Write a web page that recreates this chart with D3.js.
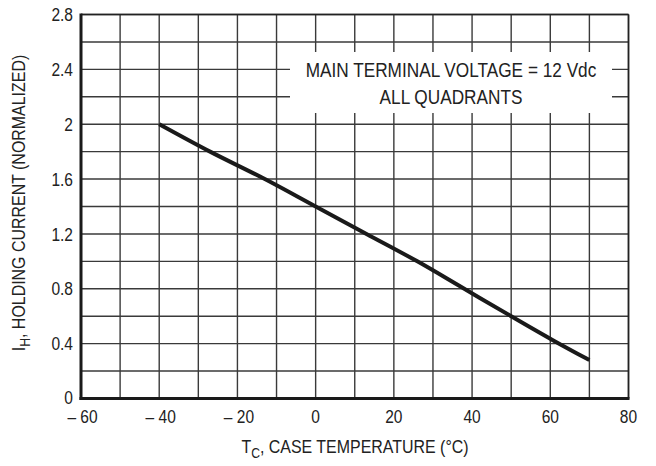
<!DOCTYPE html>
<html><head><meta charset="utf-8">
<script src="https://cdn.jsdelivr.net/npm/d3@7"></script>
<style>
body{margin:0;background:#fff;}
text{font-family:"Liberation Sans",Arial,sans-serif;fill:#222;}
</style></head>
<body><svg id="c" width="656" height="466"></svg>
<script>
const temps = [-40, -27, -13, 0, 13, 26, 38, 50, 61, 70];
const holding = [2.0, 1.8, 1.6, 1.4, 1.2, 1.0, 0.8, 0.6, 0.42, 0.28];
const xTicks = [-60, -40, -20, 0, 20, 40, 60, 80];
const yTicks = [0, 0.4, 0.8, 1.2, 1.6, 2, 2.4, 2.8];
const xGrid = d3.range(-60, 81, 10);
const yGrid = d3.range(0, 2.81, 0.2);
const noteLines = ["MAIN TERMINAL VOLTAGE = 12 Vdc", "ALL QUADRANTS"];

const svg = d3.select("#c");
const m = {l:81, r:628.5, t:14.5, b:398.5};
const x = d3.scaleLinear().domain([-60, 80]).range([m.l, m.r]);
const y = d3.scaleLinear().domain([0, 2.8]).range([m.b, m.t]);
const SX = 0.84; // condensed look

const g = svg.append("g");
g.selectAll(".vg").data(xGrid).join("line")
  .attr("x1", d=>x(d)).attr("x2", d=>x(d)).attr("y1", m.t).attr("y2", m.b)
  .attr("stroke", "#3a3a3a").attr("stroke-width", 1.4);
g.selectAll(".hg").data(yGrid).join("line")
  .attr("y1", d=>y(d)).attr("y2", d=>y(d)).attr("x1", m.l).attr("x2", m.r)
  .attr("stroke", "#3a3a3a").attr("stroke-width", 1.4);

g.append("rect").attr("x", 290).attr("y", 52).attr("width", 322).attr("height", 61).attr("fill", "#fff");
g.selectAll(".note").data(noteLines).join("text")
  .attr("transform", (d,i)=>`translate(451,${y(2.4) + i*(y(2.2)-y(2.4))}) scale(${SX},1)`)
  .attr("dy", "0.36em").attr("text-anchor", "middle").attr("font-size", 20.5)
  .text(d=>d);

g.append("line").attr("x1", m.l).attr("x2", m.r).attr("y1", m.t).attr("y2", m.t).attr("stroke","#222").attr("stroke-width",1.6);
g.append("line").attr("x1", m.r).attr("x2", m.r).attr("y1", m.t).attr("y2", m.b).attr("stroke","#222").attr("stroke-width",1.6);

const line = d3.line().x((d,i)=>x(temps[i])).y(d=>y(d)).curve(d3.curveMonotoneX);
g.append("path").datum(holding).attr("d", line).attr("fill","none")
  .attr("stroke","#1a1a1a").attr("stroke-width",4).attr("stroke-linecap","butt");

g.append("line").attr("x1", m.l).attr("x2", m.l).attr("y1", m.t-1).attr("y2", m.b+1.5).attr("stroke","#1a1a1a").attr("stroke-width",3);
g.append("line").attr("x1", m.l-1.5).attr("x2", m.r+1).attr("y1", m.b).attr("y2", m.b).attr("stroke","#1a1a1a").attr("stroke-width",3);

const fmtX = d => d < 0 ? "\u2013 " + Math.abs(d) : String(d);
g.selectAll(".xl").data(xTicks).join("text")
  .attr("transform", d=>`translate(${x(d) + (d<0 ? 1.5 : 0)},423) scale(${SX},1)`)
  .attr("text-anchor","middle").attr("font-size",18.5)
  .text(fmtX);
g.selectAll(".yl").data(yTicks).join("text")
  .attr("transform", d=>`translate(73,${y(d) - (d===0 ? 1.5 : 0)}) scale(${SX},1)`)
  .attr("dy","0.36em").attr("text-anchor","end").attr("font-size",18.5)
  .text(d=>String(d));

const xt = g.append("text").attr("transform",`translate(355,453) scale(${SX},1)`).attr("text-anchor","middle").attr("font-size",19);
xt.append("tspan").text("T");
xt.append("tspan").attr("font-size",14.5).attr("dy",5).text("C");
xt.append("tspan").attr("dy",-5).text(", CASE TEMPERATURE (°C)");

const yt = g.append("text").attr("transform",`translate(25,203) rotate(-90) scale(${SX},1)`).attr("text-anchor","middle").attr("font-size",19);
yt.append("tspan").text("I");
yt.append("tspan").attr("font-size",14.5).attr("dy",5).text("H");
yt.append("tspan").attr("dy",-5).text(", HOLDING CURRENT (NORMALIZED)");
</script></body></html>
